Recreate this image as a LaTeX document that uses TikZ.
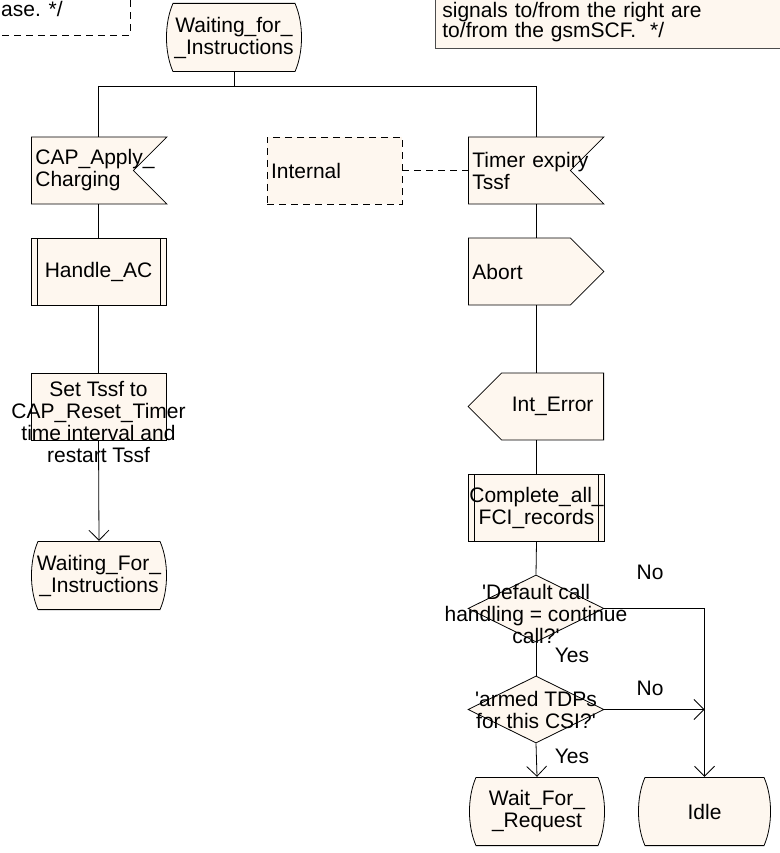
\documentclass[tikz,border=0pt]{standalone}
\usepackage{fontspec}
\setmainfont{Liberation Sans}
\usepackage{tikz}
\usetikzlibrary{calc}
\usetikzlibrary{shapes.symbols}
\usetikzlibrary{shapes.geometric}
\usetikzlibrary{arrows.meta}

\definecolor{sdlfill}{RGB}{254,247,239}

\tikzset{
	line/.style={line width=0.8pt},
	arr/.style={line, -{Straight Barb[length=10pt,width=20pt]}},
	dashline/.style={line, dash pattern=on 7pt off 5pt},
	sdl/.style={line, draw=black, fill=sdlfill, inner sep=0pt, minimum height=67pt},
	state/.style={rectangle, fill=white, inner sep=0pt, minimum width=136pt, minimum height=69pt, align=center,
		path picture={
			\coordinate (nw) at (path picture bounding box.north west);
			\coordinate (ne) at (path picture bounding box.north east);
			\coordinate (sw) at (path picture bounding box.south west);
			\coordinate (se) at (path picture bounding box.south east);
			\filldraw[line, fill=sdlfill] ($(nw)+(7pt,-0.4pt)$) -- ($(ne)+(-7pt,-0.4pt)$)
				.. controls ($(ne)+(1.7pt,-20pt)$) and ($(se)+(1.7pt,20pt)$) .. ($(se)+(-7pt,0.4pt)$)
				-- ($(sw)+(7pt,0.4pt)$)
				.. controls ($(sw)+(-1.7pt,20pt)$) and ($(nw)+(-1.7pt,-20pt)$) .. cycle;
		}},
	input/.style={sdl, signal, signal to=nowhere, signal from=east, anchor=west, text width=94pt, inner xsep=4pt, align=left},
	output/.style={sdl, signal, signal to=east, anchor=west, text width=94pt, inner xsep=4pt, align=left},
	outleft/.style={sdl, signal, signal to=west, anchor=east, text width=94pt, inner xsep=4pt, align=center},
	proc/.style={sdl, rectangle, minimum width=135pt, inner xsep=1pt, align=center,
		path picture={\draw[line] ([xshift=6pt]path picture bounding box.north west) -- ([xshift=6pt]path picture bounding box.south west)
			([xshift=-6pt]path picture bounding box.north east) -- ([xshift=-6pt]path picture bounding box.south east);}},
	task/.style={sdl, rectangle, minimum width=135pt},
	intbox/.style={sdl, dashline, rectangle, minimum width=135pt, text width=127pt, align=left},
	decision/.style={sdl, diamond, minimum width=136pt, minimum height=67pt},
	txt/.style={align=center, inner sep=0pt},
	note/.style={line, draw=black!70, fill=sdlfill, align=left, inner xsep=7pt, inner ysep=7pt, font=\fontsize{21}{20}\selectfont}
}

\begin{document}
\begin{tikzpicture}[x=1pt, y=-1pt, font=\fontsize{21}{22}\selectfont]
	\useasboundingbox (0,0) rectangle (779,853);

	\draw[dashline] (-10,35) -| (130,-10);
	\node[anchor=base west, inner sep=0pt] (oldnote) at (1,17) {ase. */};
	\node[note, anchor=south west, text width=360pt] (signote) at (435,49) {signals to/from the right are\\to/from the gsmSCF.~~*/};

	\node[state] (start) at (234,37.5) {Waiting\_for\_\\\_Instructions};
	\coordinate (fork) at (234,86);

	\node[input] (apply) at (31,170.5) {CAP\_Apply\_\\Charging};
	\node[intbox] (internal) at (334.5,170.5) {Internal};
	\node[input] (timer) at (468,170.5) {\mbox{Timer expiry}\\Tssf};
	\node[proc] (handle) at (98.5,271.5) {Handle\_AC};
	\node[output] (abort) at (468,271.5) {Abort};
	\node[task, label={[txt, yshift=-15pt]center:{Set Tssf to\\CAP\_Reset\_Timer\\time interval and\\restart Tssf}}] (settssf) at (98.5,406.5) {};
	\node[outleft] (interr) at (604,406.5) {Int\_Error};
	\node[proc] (complete) at (536.5,507.5) {Complete\_all\_\\FCI\_records};
	\node[state] (waitinst) at (99,575.5) {Waiting\_For\_\\\_Instructions};
	\node[decision, label={[txt, yshift=-5pt]center:{\textquotesingle Default call\\handling = continue\\call?\textquotesingle}}] (dch) at (536,608.5) {};
	\node[decision, label={[txt]center:{\textquotesingle armed TDPs\\for this CSI?\textquotesingle}}] (armed) at (536,709.5) {};
	\node[state] (waitreq) at (537,811.5) {Wait\_For\_\\\_Request};
	\node[state, minimum width=133pt] (idle) at (704.5,811.5) {Idle};

	\node (no1) at (650,572) {No};
	\node (no2) at (650,688) {No};
	\node (yes1) at (572,655) {Yes};
	\node (yes2) at (572,756) {Yes};

	\draw[line] (start) -- (fork);
	\draw[line] (fork -| handle.north) -- (fork -| complete.north);
	\draw[line] (fork -| handle.north) -- (apply.north -| handle.north);
	\draw[line] (apply.south -| handle.north) -- (handle.north);
	\draw[line] (handle.south) -- (settssf.north);
	\draw[arr] (settssf.south) -- (waitinst.north);
	\draw[dashline] (internal.east) -- (timer.west);
	\draw[line] (fork -| complete.north) -- (timer.north -| complete.north);
	\draw[line] (timer.south -| complete.north) -- (abort.north -| complete.north);
	\draw[line] (abort.south -| complete.north) -- (interr.north -| complete.north);
	\draw[line] (interr.south -| complete.north) -- (complete.north);
	\draw[line] (complete.south) -- (dch.north);
	\draw[arr] (dch.east) -| (idle.north);
	\draw[line] (dch.south) -- (armed.north);
	\draw[arr] (armed.east) -- (armed.east -| idle.north);
	\draw[arr] (armed.south) -- (waitreq.north);
\end{tikzpicture}
\end{document}
